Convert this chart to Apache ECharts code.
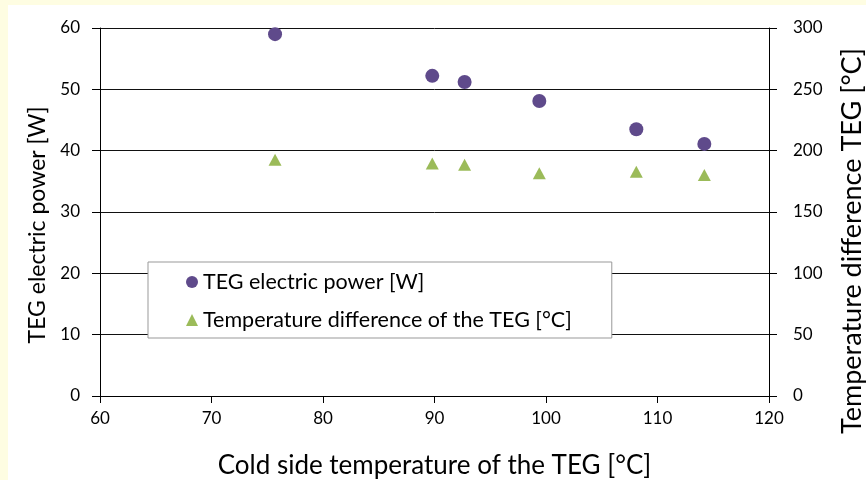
<!DOCTYPE html>
<html>
<head>
<meta charset="utf-8">
<script src="https://cdn.jsdelivr.net/npm/echarts@6/dist/echarts.min.js"></script>
<style>
  html, body { margin: 0; padding: 0; background: #fff; }
  #main { width: 866px; height: 480px; }
</style>
</head>
<body>
<div id="main"></div>
<script>
// data
var coldTemp = [75.7, 89.8, 92.7, 99.4, 108.1, 114.2];
var power = [59.0, 52.2, 51.2, 48.1, 43.5, 41.1];
var tempDiff = [192.5, 189.5, 188.5, 181.6, 182.9, 180.2];

var xTicks = [60, 70, 80, 90, 100, 110, 120];
var leftTicks = [0, 10, 20, 30, 40, 50, 60];
var rightTicks = [0, 50, 100, 150, 200, 250, 300];

var font = 'Lato';

function pairs(xs, ys) {
  var out = [];
  for (var i = 0; i < xs.length; i++) {
    out.push([xs[i], ys[i]]);
  }
  return out;
}

var chart = echarts.init(document.getElementById('main'));

var option = {
  backgroundColor: '#fff',
  animation: false,
  textStyle: { fontFamily: font },
  graphic: [
    { type: 'rect', left: 0, top: 0, shape: { width: 866, height: 5 }, style: { fill: '#fefde2' }, silent: true },
    { type: 'rect', left: 0, top: 0, shape: { width: 8, height: 480 }, style: { fill: '#fefde2' }, silent: true }
  ],
  grid: { left: 100, right: 97, top: 28, bottom: 84, outerBoundsMode: 'none', containLabel: false },
  legend: {
    orient: 'vertical',
    left: 148,
    top: 262,
    padding: [8, 40, 6, 38],
    itemGap: 14,
    itemWidth: 12,
    itemHeight: 12,
    backgroundColor: '#fff',
    borderColor: '#999',
    borderWidth: 1,
    textStyle: { fontFamily: font, fontSize: 21.5, color: '#000', lineHeight: 24 },
    data: [
      { name: 'TEG electric power [W]', icon: 'circle' },
      { name: 'Temperature difference of the TEG [°C]', icon: 'triangle' }
    ]
  },
  xAxis: {
    type: 'value',
    min: xTicks[0],
    max: xTicks[xTicks.length - 1],
    interval: 10,
    name: 'Cold side temperature of the TEG [°C]',
    nameLocation: 'middle',
    nameGap: 57,
    nameTextStyle: { fontFamily: font, fontSize: 26, color: '#000' },
    axisLine: { lineStyle: { color: '#000', width: 1 } },
    axisTick: { show: true, length: 7, lineStyle: { color: '#000' } },
    axisLabel: { fontFamily: font, fontSize: 17, color: '#000', margin: 14 },
    splitLine: { show: false }
  },
  yAxis: [
    {
      type: 'value',
      min: leftTicks[0],
      max: leftTicks[leftTicks.length - 1],
      interval: 10,
      name: 'TEG electric power [W]',
      nameLocation: 'middle',
      nameGap: 51,
      nameTextStyle: { fontFamily: font, fontSize: 23, color: '#000', padding: [0, 26, 0, 0] },
      axisLine: { show: true, lineStyle: { color: '#000', width: 1 } },
      axisTick: { show: true, length: 8, lineStyle: { color: '#000' } },
      axisLabel: { fontFamily: font, fontSize: 17, color: '#000', margin: 20 },
      splitLine: { show: true, lineStyle: { color: '#111', width: 1 } }
    },
    {
      type: 'value',
      position: 'right',
      min: rightTicks[0],
      max: rightTicks[rightTicks.length - 1],
      interval: 50,
      name: 'Temperature difference TEG [°C]',
      nameLocation: 'middle',
      nameRotate: 90,
      nameGap: 70,
      nameTextStyle: { fontFamily: font, fontSize: 27, color: '#000', padding: [0, 58, 0, 0] },
      axisLine: { show: true, lineStyle: { color: '#000', width: 1 } },
      axisTick: { show: true, length: 8, lineStyle: { color: '#000' } },
      axisLabel: { fontFamily: font, fontSize: 17, color: '#000', margin: 24 },
      splitLine: { show: false }
    }
  ],
  series: [
    {
      name: 'TEG electric power [W]',
      type: 'scatter',
      yAxisIndex: 0,
      symbol: 'circle',
      symbolSize: 14,
      itemStyle: { color: '#5f4a8b', opacity: 1 },
      data: pairs(coldTemp, power)
    },
    {
      name: 'Temperature difference of the TEG [°C]',
      type: 'scatter',
      yAxisIndex: 1,
      symbol: 'triangle',
      symbolSize: [13, 12],
      itemStyle: { color: '#9bbb59', opacity: 1 },
      data: pairs(coldTemp, tempDiff)
    }
  ]
};

chart.setOption(option);
</script>
</body>
</html>
